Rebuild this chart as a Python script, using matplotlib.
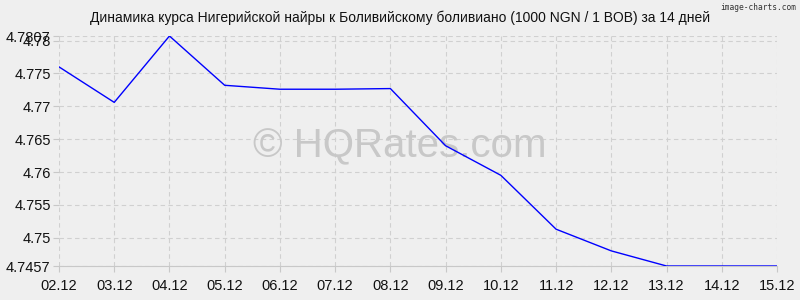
import matplotlib.pyplot as plt
from matplotlib.ticker import FixedLocator

plt.rcParams['font.family'] = ['Liberation Sans', 'DejaVu Sans']

dates = ["02.12", "03.12", "04.12", "05.12", "06.12", "07.12", "08.12",
         "09.12", "10.12", "11.12", "12.12", "13.12", "14.12", "15.12"]
rates = [4.7760, 4.7706, 4.7807, 4.7732, 4.7726, 4.7726, 4.7727,
         4.7640, 4.7595, 4.7513, 4.7480, 4.7457, 4.7457, 4.7457]
yticks = [4.7457, 4.75, 4.755, 4.76, 4.765, 4.77, 4.775, 4.78, 4.7807]
ylabels = ["4.7457", "4.75", "4.755", "4.76", "4.765", "4.77", "4.775", "4.78", "4.7807"]

bg = "#efefef"
fig = plt.figure(figsize=(8, 3), dpi=100, facecolor=bg)
ax = fig.add_axes([59 / 800, 1 - 266 / 300, (777 - 59) / 800, (266 - 36) / 300])
ax.set_facecolor(bg)

x = list(range(len(dates)))
ax.plot(x, rates, color="#0000ff", lw=1, zorder=3)

ax.set_xlim(0, len(dates) - 1)
ax.set_ylim(yticks[0], yticks[-1])
ax.set_xticks(x)
ax.set_xticklabels(dates)
ax.yaxis.set_major_locator(FixedLocator(yticks))
ax.set_yticklabels(ylabels)

ax.grid(True, color="#d0d0d0", ls=(0, (4, 3)), lw=0.8)
for s in ["top", "right", "left"]:
    ax.spines[s].set_visible(False)
ax.spines["bottom"].set_color("#c8c8c8")
ax.tick_params(axis="both", labelsize=10.5, colors="#c8c8c8", labelcolor="#111111", length=4)
ax.tick_params(axis="x", pad=5)
ax.tick_params(axis="y", pad=2)

# watermark sits under the line
ax.text(400 / 800, 1 - 146 / 300, "© HQRates.com", transform=fig.transFigure,
        ha="center", va="center", fontsize=29, color="#c8c8c8", zorder=2)

fig.text(0.5, 1 - 18 / 300, "Динамика курса Нигерийской найры к Боливийскому боливиано (1000 NGN / 1 BOB) за 14 дней",
         ha="center", va="center", fontsize=10, color="#111111")
fig.text(796 / 800, 1 - 7 / 300, "image-charts.com", ha="right", va="center",
         fontsize=5.7, color="#333333", family=["DejaVu Sans Mono"])

plt.savefig("out.png", dpi=100, facecolor=bg)
